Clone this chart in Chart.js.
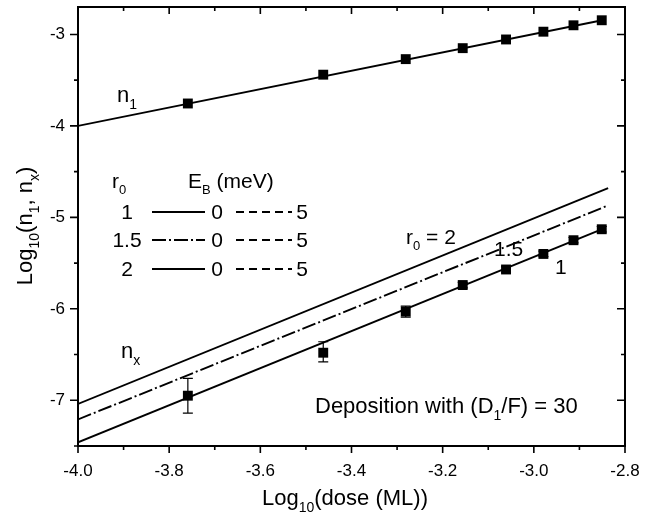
<!DOCTYPE html>
<html>
<head>
<meta charset="utf-8">
<script src="https://cdn.jsdelivr.net/npm/chart.js@4.4.1/dist/chart.umd.min.js"></script>
<style>
  html, body { margin: 0; padding: 0; background: #fff; }
  #wrap { width: 660px; height: 514px; }
</style>
</head>
<body>
<div id="wrap"><canvas id="chart"></canvas></div>
<script>
// axis ticks
const xTickLabels = [-4.0, -3.8, -3.6, -3.4, -3.2, -3.0, -2.8];
const xMinorTicks = [-3.9, -3.7, -3.5, -3.3, -3.1, -2.9];
const yTickLabels = [-7, -6, -5, -4, -3];
const yMinorTicks = [-7.5, -6.5, -5.5, -4.5, -3.5];

// measured points
const doseLog = [-3.759, -3.462, -3.281, -3.156, -3.061, -2.979, -2.913, -2.851];
const n1Values = [-3.755, -3.44, -3.27, -3.15, -3.055, -2.97, -2.90, -2.845];
const nxValues = [-6.95, -6.48, -6.03, -5.74, -5.57, -5.40, -5.25, -5.13];
const nxErrLow = [-7.14, -6.58, -6.09, -5.77, -5.60, -5.43, -5.28, -5.16];
const nxErrHigh = [-6.76, -6.36, -5.97, -5.71, -5.54, -5.37, -5.22, -5.10];

// model curves (two end points each, straight in log-log)
const fitX = [-4.0, -2.85];
const fitXLong = [-4.0, -2.837];
const n1Fit = [-4.0, -2.845];
const nxFitR1 = [-7.46, -5.13];
const nxFitR15 = [-7.21, -4.87];
const nxFitR2 = [-7.04, -4.68];

const FONT = '"Liberation Sans", Arial, Helvetica, sans-serif';

function pts(xs, ys) {
  return xs.map((x, i) => ({ x: x, y: ys[i] }));
}

// text with subscripts: parts = [[text, isSub], ...]
function drawRich(ctx, parts, x, y, size, align) {
  const sub = Math.round(size * 0.62);
  let w = 0;
  parts.forEach(p => {
    ctx.font = (p[1] ? sub : size) + 'px ' + FONT;
    w += ctx.measureText(p[0]).width;
  });
  let cx = align === 'center' ? x - w / 2 : (align === 'right' ? x - w : x);
  ctx.textAlign = 'left';
  ctx.textBaseline = 'alphabetic';
  parts.forEach(p => {
    ctx.font = (p[1] ? sub : size) + 'px ' + FONT;
    ctx.fillText(p[0], cx, p[1] ? y + size * 0.3 : y);
    cx += ctx.measureText(p[0]).width;
  });
}

const decor = {
  id: 'decor',
  afterDatasetsDraw(chart) {
    const ctx = chart.ctx;
    const xs = chart.scales.x, ys = chart.scales.y;
    ctx.save();
    ctx.strokeStyle = '#000';
    ctx.lineWidth = 1.2;
    doseLog.forEach((d, i) => {
      const px = xs.getPixelForValue(d);
      const lo = ys.getPixelForValue(nxErrLow[i]);
      const hi = ys.getPixelForValue(nxErrHigh[i]);
      ctx.beginPath();
      ctx.moveTo(px, lo); ctx.lineTo(px, hi);
      ctx.moveTo(px - 5, lo); ctx.lineTo(px + 5, lo);
      ctx.moveTo(px - 5, hi); ctx.lineTo(px + 5, hi);
      ctx.stroke();
    });
    ctx.restore();
  },
  afterDraw(chart) {
    const ctx = chart.ctx;
    const a = chart.chartArea;
    const xs = chart.scales.x, ys = chart.scales.y;
    ctx.save();
    ctx.strokeStyle = '#000';
    ctx.fillStyle = '#000';

    // frame
    ctx.lineWidth = 2;
    ctx.strokeRect(a.left, a.top, a.right - a.left, a.bottom - a.top);

    // ticks: outward on bottom/left, inward on top/right
    ctx.lineWidth = 1.6;
    ctx.beginPath();
    const xt = (v, len) => {
      const p = xs.getPixelForValue(v);
      ctx.moveTo(p, a.bottom); ctx.lineTo(p, a.bottom + len);
      ctx.moveTo(p, a.top); ctx.lineTo(p, a.top + len);
    };
    const yt = (v, len) => {
      const p = ys.getPixelForValue(v);
      ctx.moveTo(a.left, p); ctx.lineTo(a.left - len, p);
      ctx.moveTo(a.right, p); ctx.lineTo(a.right - len, p);
    };
    xTickLabels.forEach(v => xt(v, 7));
    xMinorTicks.forEach(v => xt(v, 4));
    yTickLabels.forEach(v => yt(v, 8));
    yMinorTicks.forEach(v => yt(v, 4));
    ctx.stroke();

    // axis titles
    drawRich(ctx, [['Log', 0], ['10', 1], ['(dose (ML))', 0]], 345, 505, 22, 'center');
    ctx.save();
    ctx.translate(32, 226);
    ctx.rotate(-Math.PI / 2);
    drawRich(ctx, [['Log', 0], ['10', 1], ['(n', 0], ['1', 1], [', n', 0], ['x', 1], [')', 0]], 0, 0, 22, 'center');
    ctx.restore();

    // curve labels
    drawRich(ctx, [['n', 0], ['1', 1]], 117, 102, 22, 'left');
    drawRich(ctx, [['n', 0], ['x', 1]], 121, 358, 22, 'left');
    drawRich(ctx, [['r', 0], ['0', 1], [' = 2', 0]], 406, 244, 21, 'left');
    drawRich(ctx, [['1.5', 0]], 494, 256, 21, 'left');
    drawRich(ctx, [['1', 0]], 555, 274, 21, 'left');
    drawRich(ctx, [['Deposition with (D', 0], ['1', 1], ['/F) = 30', 0]], 315, 413, 22, 'left');

    // legend block
    drawRich(ctx, [['r', 0], ['0', 1]], 112, 188, 21, 'left');
    drawRich(ctx, [['E', 0], ['B', 1], [' (meV)', 0]], 188, 188, 21, 'left');
    const rows = [['1', 219, []], ['1.5', 247, [14, 3, 2, 3]], ['2', 276, []]];
    rows.forEach(r => {
      drawRich(ctx, [[r[0], 0]], 127, r[1], 21, 'center');
      ctx.lineWidth = 1.8;
      ctx.setLineDash(r[2]);
      ctx.beginPath();
      ctx.moveTo(152, r[1] - 7); ctx.lineTo(205, r[1] - 7);
      ctx.stroke();
      drawRich(ctx, [['0', 0]], 217, r[1], 21, 'center');
      ctx.setLineDash([8, 5]);
      ctx.beginPath();
      ctx.moveTo(236, r[1] - 7); ctx.lineTo(292, r[1] - 7);
      ctx.stroke();
      ctx.setLineDash([]);
      drawRich(ctx, [['5', 0]], 302, r[1], 21, 'center');
    });
    ctx.restore();
  }
};

const lineStyle = { showLine: true, pointRadius: 0, borderColor: '#000', borderWidth: 1.9, fill: false };

new Chart(document.getElementById('chart'), {
  type: 'scatter',
  data: {
    datasets: [
      Object.assign({ label: 'n1 fit', data: pts(fitX, n1Fit) }, lineStyle),
      Object.assign({ label: 'nx r0=1', data: pts(fitX, nxFitR1) }, lineStyle),
      Object.assign({ label: 'nx r0=1.5', data: pts(fitXLong, nxFitR15), borderDash: [14, 3, 2, 3] }, lineStyle),
      Object.assign({ label: 'nx r0=2', data: pts(fitXLong, nxFitR2) }, lineStyle),
      {
        label: 'n1',
        data: pts(doseLog, n1Values),
        pointStyle: 'rect',
        pointRadius: 7,
        backgroundColor: '#000',
        borderColor: '#000',
        borderWidth: 0
      },
      {
        label: 'nx',
        data: pts(doseLog, nxValues),
        pointStyle: 'rect',
        pointRadius: 7,
        backgroundColor: '#000',
        borderColor: '#000',
        borderWidth: 0
      }
    ]
  },
  options: {
    responsive: true,
    maintainAspectRatio: false,
    animation: false,
    layout: { padding: { top: 5, right: 35, left: 0, bottom: 0 } },
    plugins: {
      legend: { display: false },
      tooltip: { enabled: false }
    },
    scales: {
      x: {
        type: 'linear',
        min: -4.0,
        max: -2.8,
        afterBuildTicks: s => { s.ticks = xTickLabels.map(v => ({ value: v })); },
        afterFit: s => { s.height = 68; s.paddingLeft = 0; s.paddingRight = 0; },
        grid: { display: false, drawTicks: false },
        border: { display: false },
        ticks: {
          autoSkip: false,
          maxRotation: 0,
          padding: 15,
          color: '#000',
          font: { family: FONT, size: 17 },
          callback: v => v.toFixed(1)
        }
      },
      y: {
        type: 'linear',
        min: -7.5,
        max: -2.7,
        afterBuildTicks: s => { s.ticks = yTickLabels.map(v => ({ value: v })); },
        afterFit: s => { s.width = 78; s.paddingTop = 0; s.paddingBottom = 0; },
        grid: { display: false, drawTicks: false },
        border: { display: false },
        ticks: {
          autoSkip: false,
          padding: 13,
          color: '#000',
          font: { family: FONT, size: 17 },
          callback: v => String(v)
        }
      }
    }
  },
  plugins: [decor]
});
</script>
</body>
</html>
